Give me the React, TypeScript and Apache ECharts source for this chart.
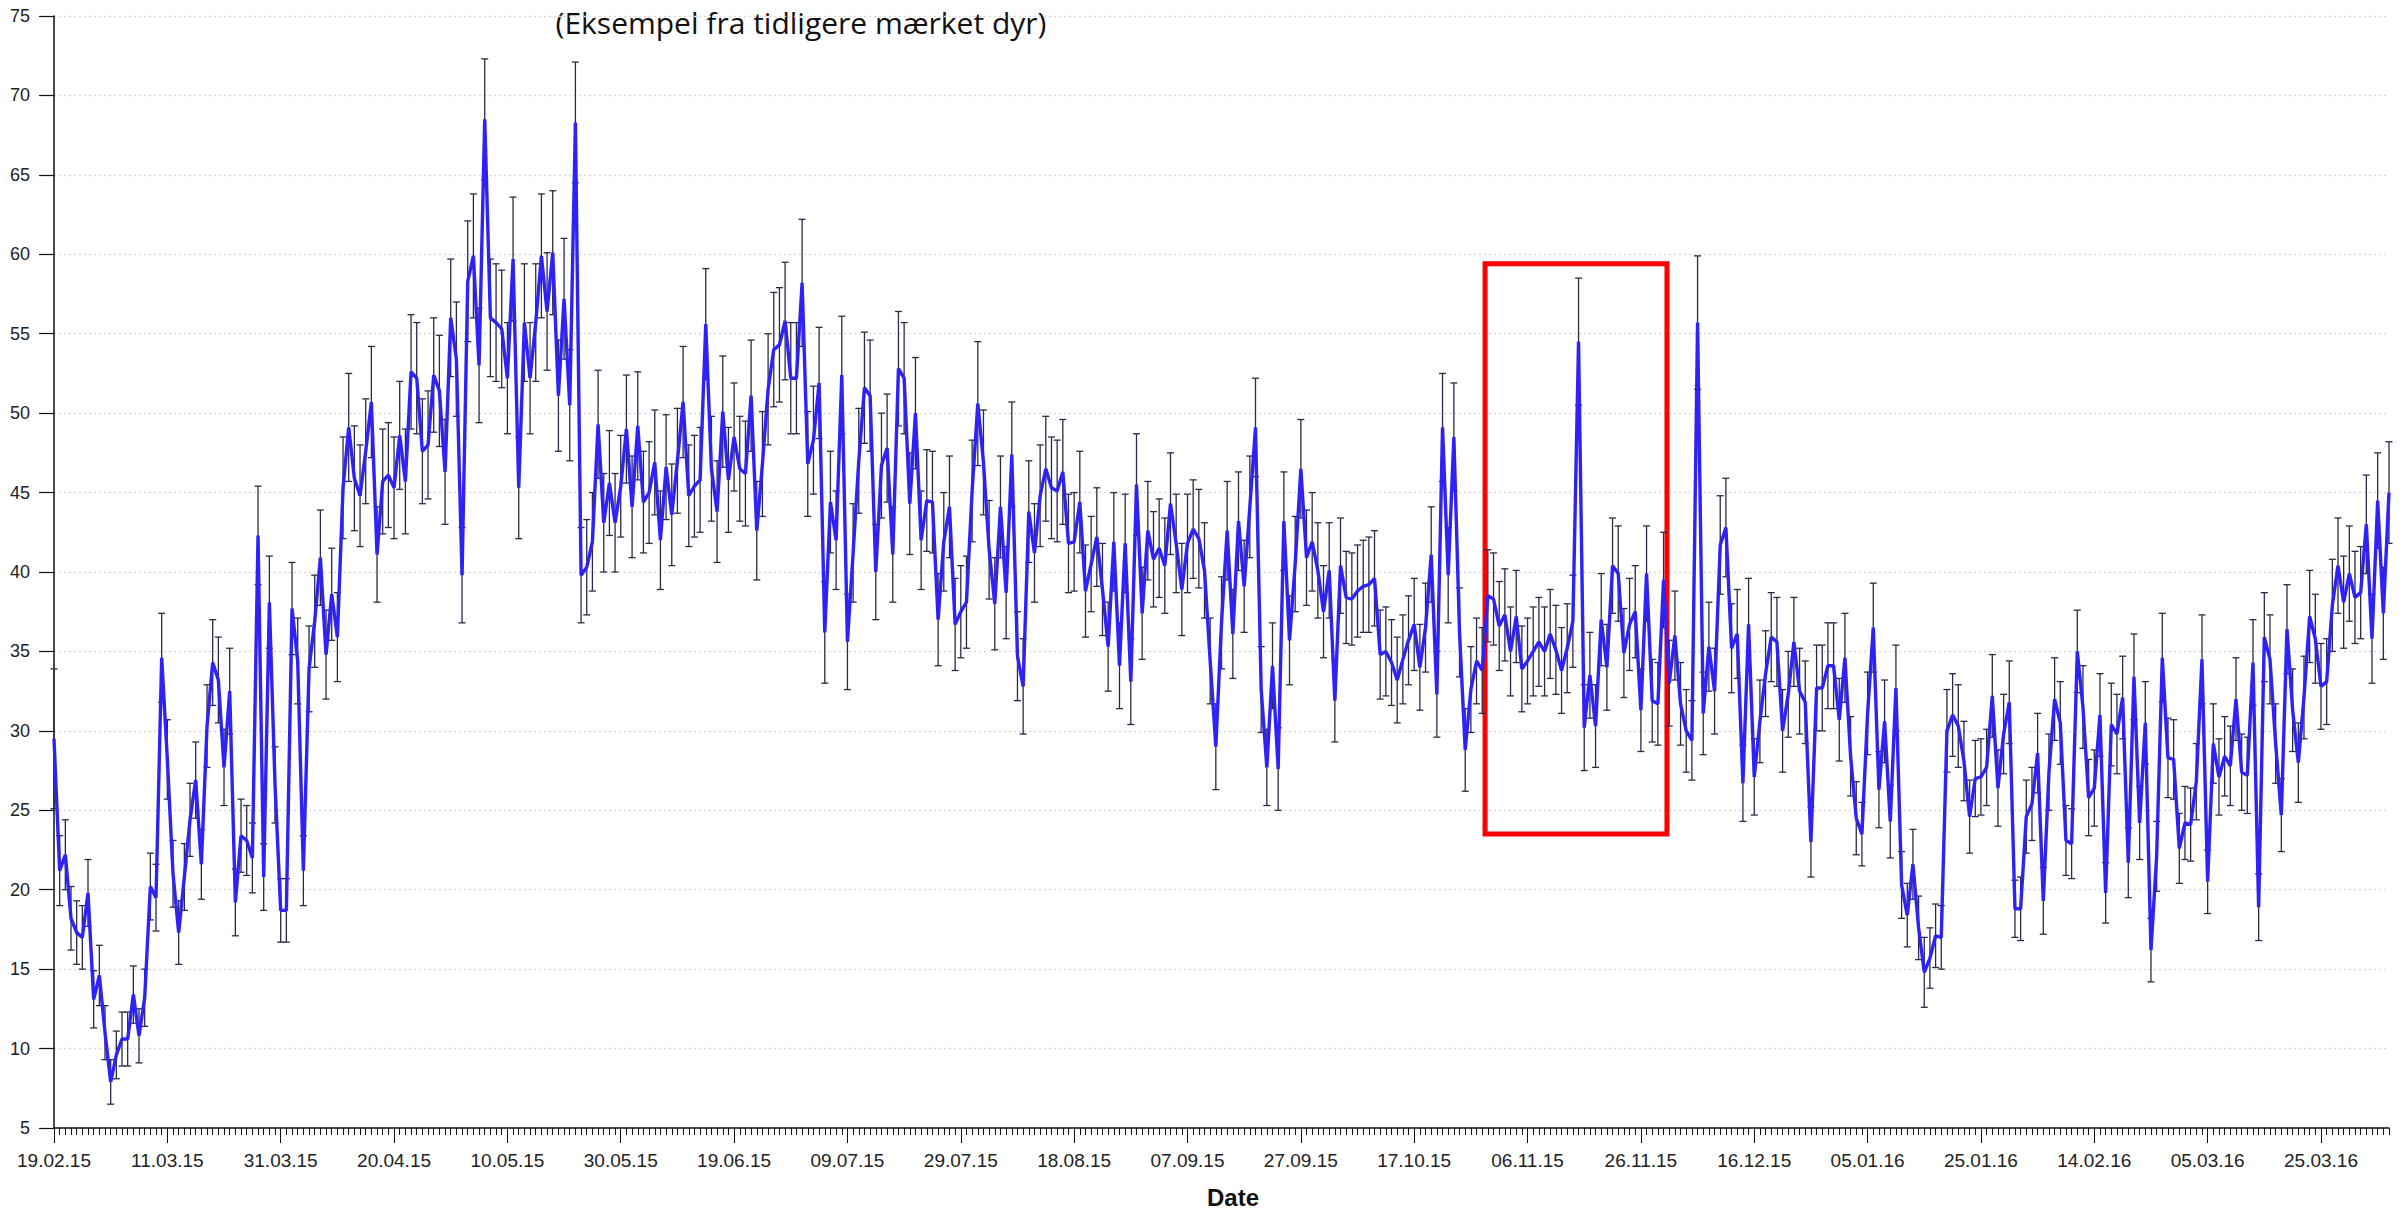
import React, { useEffect, useRef } from 'react';
import * as echarts from 'echarts';

// ---- Tick labels (one every 20 days, starting 19.02.2015 = day 0) ----
const xTickLabels = [
  '19.02.15', '11.03.15', '31.03.15', '20.04.15', '10.05.15', '30.05.15', '19.06.15',
  '09.07.15', '29.07.15', '18.08.15', '07.09.15', '27.09.15', '17.10.15', '06.11.15',
  '26.11.15', '16.12.15', '05.01.16', '25.01.16', '14.02.16', '05.03.16', '25.03.16',
];
const TICK_STEP_DAYS = 20;

const TITLE_TEXT = '(Eksempel fra tidligere mærket dyr)';
const X_NAME = 'Date';

// ---- Daily mean values (day 0 = 19.02.15) ----
const meanA = [
  29.5, 21.2, 22.2, 18.2, 17.3, 17.0, 19.8, 13.1, 14.6, 11.0,
  7.9, 9.6, 10.6, 10.6, 13.4, 10.8, 13.2, 20.2, 19.5, 34.6,
  28.2, 21.0, 17.3, 20.8, 24.4, 26.9, 21.6, 30.3, 34.3, 33.2,
  27.7, 32.5, 19.2, 23.4, 23.1, 22.0, 42.3, 20.8, 38.1, 26.6,
  18.7, 18.7, 37.7, 34.4, 21.2, 33.9, 36.9, 40.9, 34.8, 38.6,
];
const meanB = [
  35.9, 45.3, 49.1, 45.9, 44.8, 47.6, 50.7, 41.1, 45.7, 46.1,
  45.3, 48.6, 45.7, 52.6, 52.2, 47.6, 48.0, 52.4, 51.4, 46.3,
  56.0, 53.4, 39.8, 58.3, 59.9, 53.0, 68.5, 56.0, 55.7, 55.3,
  52.2, 59.7, 45.3, 55.7, 52.2, 55.7, 59.9, 56.4, 60.1, 51.1,
  57.2, 50.5, 68.3, 39.8, 40.3, 41.9, 49.3, 43.1, 45.6, 43.1,
];
const meanC = [
  45.4, 49.0, 44.1, 49.2, 44.4, 45.0, 46.9, 42.0, 46.6, 43.6,
  47.0, 50.7, 44.8, 45.4, 45.8, 55.6, 46.5, 43.8, 50.1, 45.8,
  48.5, 46.5, 46.2, 51.1, 42.6, 46.8, 51.5, 54.0, 54.3, 55.8,
  52.2, 52.2, 58.2, 46.8, 48.3, 51.9, 36.2, 44.4, 42.0, 52.4,
  35.6, 41.2, 47.0, 51.6, 51.1, 40.0, 46.7, 47.8, 41.1, 52.8,
];
const meanD = [
  52.2, 44.3, 50.0, 42.0, 44.5, 44.4, 37.0, 41.9, 44.1, 36.7,
  37.5, 38.1, 45.1, 50.6, 46.9, 41.4, 38.0, 44.1, 38.7, 47.4,
  34.7, 32.8, 43.8, 41.2, 44.8, 46.5, 45.3, 45.1, 46.3, 41.8,
  41.9, 44.4, 38.8, 40.5, 42.2, 38.9, 35.3, 41.9, 34.1, 41.8,
  33.1, 45.5, 37.4, 42.6, 40.8, 41.5, 40.4, 44.3, 41.8, 38.9,
];
const meanE = [
  41.8, 42.7, 42.1, 40.1, 34.4, 29.0, 36.8, 42.6, 36.1, 43.2,
  39.1, 44.1, 49.1, 32.6, 27.7, 34.1, 27.6, 43.2, 35.7, 40.5,
  46.5, 40.9, 41.9, 40.1, 37.5, 40.1, 31.9, 40.4, 38.4, 38.3,
  38.8, 39.1, 39.2, 39.6, 34.8, 35.0, 34.3, 33.2, 34.5, 35.7,
  36.7, 34.0, 36.5, 41.1, 32.3, 49.1, 39.8, 48.5, 36.2, 28.8,
];
const meanF = [
  32.6, 34.4, 33.8, 38.5, 38.3, 36.6, 37.3, 35.0, 37.2, 33.9,
  34.4, 35.0, 35.6, 35.0, 36.1, 35.1, 33.8, 35.2, 36.9, 54.5,
  30.2, 33.5, 30.3, 37.0, 34.0, 40.4, 39.9, 34.9, 36.7, 37.5,
  31.3, 39.9, 31.9, 31.7, 39.5, 33.0, 36.0, 31.7, 30.0, 29.4,
  55.7, 31.1, 35.3, 32.5, 41.7, 42.8, 35.2, 36.1, 26.7, 36.7,
];
const meanG = [
  27.1, 30.6, 33.6, 35.9, 35.6, 30.0, 32.3, 35.6, 32.5, 31.8,
  23.0, 32.7, 32.7, 34.1, 34.1, 30.7, 34.6, 28.4, 24.5, 23.5,
  31.1, 36.5, 26.3, 30.6, 24.3, 32.7, 20.3, 18.4, 21.6, 17.6,
  14.8, 15.7, 17.1, 17.0, 30.0, 31.0, 30.3, 28.1, 24.6, 27.0,
  27.1, 27.7, 32.2, 26.4, 29.8, 31.8, 18.8, 18.8, 24.6, 25.4,
];
const meanH = [
  28.6, 19.3, 27.4, 32.0, 30.5, 23.1, 22.9, 35.0, 31.5, 25.8,
  26.4, 31.0, 19.8, 30.4, 29.8, 32.1, 21.7, 33.4, 24.2, 30.5,
  16.2, 22.1, 34.6, 28.3, 28.2, 22.6, 24.2, 24.1, 26.8, 34.5,
  20.5, 29.2, 27.1, 28.4, 27.8, 32.0, 27.4, 27.2, 34.3, 18.9,
  35.9, 34.5, 29.2, 24.7, 36.4, 31.3, 28.0, 32.1, 37.2, 35.8,
  32.8, 33.1, 37.9, 40.4, 38.1, 39.9, 38.4, 38.7, 43.0, 35.8,
  44.5, 37.4, 45.0,
];

// ---- Error-bar half widths, same order ----
const errA = [
  4.4, 2.2, 2.2, 2.0, 2.0, 2.0, 2.1, 1.8, 1.9, 1.7,
  1.4, 1.5, 1.7, 1.7, 1.8, 1.7, 1.8, 2.1, 2.1, 2.8,
  2.5, 2.1, 2.0, 2.1, 2.3, 2.4, 2.2, 2.6, 2.7, 2.7,
  2.4, 2.7, 2.1, 2.3, 2.2, 2.2, 3.1, 2.1, 2.9, 2.4,
  2.0, 2.0, 2.9, 2.7, 2.2, 2.7, 2.9, 3.0, 2.8, 2.9,
];
const errB = [
  2.8, 3.2, 3.4, 3.3, 3.2, 3.3, 3.5, 3.0, 3.3, 3.3,
  3.2, 3.4, 3.3, 3.6, 3.5, 3.3, 3.4, 3.6, 3.5, 3.3,
  3.7, 3.6, 3.0, 3.8, 3.9, 3.6, 3.8, 3.7, 3.7, 3.7,
  3.5, 3.9, 3.2, 3.7, 3.5, 3.7, 3.9, 3.7, 3.9, 3.5,
  3.8, 3.5, 3.8, 3.0, 3.0, 3.1, 3.4, 3.1, 3.3, 3.1,
];
const errC = [
  3.2, 3.4, 3.2, 3.4, 3.2, 3.2, 3.3, 3.1, 3.3, 3.2,
  3.3, 3.5, 3.2, 3.2, 3.3, 3.5, 3.3, 3.2, 3.5, 3.3,
  3.4, 3.3, 3.3, 3.5, 3.1, 3.3, 3.5, 3.6, 3.6, 3.7,
  3.5, 3.5, 4.0, 3.3, 3.4, 3.5, 3.2, 3.2, 3.1, 3.7,
  3.0, 3.1, 3.3, 3.5, 3.5, 3.0, 3.3, 3.4, 3.0, 3.6,
];
const errD = [
  3.5, 3.2, 3.5, 3.1, 3.2, 3.2, 2.9, 3.1, 3.2, 2.9,
  2.9, 2.9, 3.2, 3.9, 3.3, 3.1, 2.9, 3.2, 2.9, 3.3,
  2.8, 3.0, 3.2, 3.1, 3.2, 3.3, 3.2, 3.2, 3.3, 3.1,
  3.1, 3.2, 2.9, 3.0, 3.1, 2.9, 2.8, 3.1, 2.7, 3.1,
  2.7, 3.2, 2.9, 3.1, 3.0, 3.1, 3.0, 3.2, 3.1, 2.9,
];
const errE = [
  3.1, 3.1, 3.1, 3.0, 2.7, 2.7, 2.9, 3.1, 2.8, 3.1,
  2.9, 3.2, 3.1, 2.7, 2.4, 2.7, 2.6, 3.1, 2.8, 3.0,
  3.1, 3.0, 3.1, 3.0, 2.9, 3.0, 2.6, 3.0, 2.9, 2.9,
  2.9, 2.9, 3.0, 3.0, 2.8, 2.8, 2.7, 2.7, 2.8, 2.8,
  2.9, 2.7, 2.8, 3.0, 2.7, 3.4, 3.0, 3.4, 2.8, 2.6,
];
const errF = [
  2.7, 2.7, 2.7, 2.9, 2.9, 2.8, 2.9, 2.8, 2.9, 2.7,
  2.7, 2.8, 2.8, 2.8, 2.8, 2.8, 2.7, 2.8, 2.9, 4.0,
  2.7, 2.7, 2.6, 2.9, 2.7, 3.0, 3.0, 2.8, 2.9, 2.9,
  2.6, 3.0, 2.6, 2.6, 3.0, 2.7, 2.8, 2.6, 2.6, 2.5,
  4.2, 2.6, 2.8, 2.7, 3.1, 3.1, 2.8, 2.8, 2.4, 2.9,
];
const errG = [
  2.4, 2.6, 2.7, 2.8, 2.8, 2.6, 2.7, 2.8, 2.7, 2.6,
  2.2, 2.7, 2.7, 2.7, 2.7, 2.6, 2.8, 2.5, 2.3, 2.0,
  2.6, 2.8, 2.4, 2.6, 2.3, 2.7, 2.1, 2.0, 2.2, 2.0,
  2.2, 1.9, 2.0, 2.0, 2.6, 2.6, 2.6, 2.5, 2.3, 2.4,
  2.4, 2.4, 2.6, 2.4, 2.5, 2.6, 1.8, 2.0, 2.3, 2.3,
];
const errH = [
  2.5, 2.1, 2.4, 2.6, 2.6, 2.2, 2.2, 2.6, 2.6, 2.4,
  2.4, 2.6, 1.9, 2.6, 2.5, 2.6, 2.2, 2.7, 2.3, 2.6,
  2.0, 2.2, 2.8, 2.5, 2.5, 2.2, 2.3, 2.3, 2.4, 2.8,
  2.0, 2.5, 2.4, 2.5, 2.5, 2.6, 2.4, 2.4, 2.7, 2.1,
  2.8, 2.8, 2.5, 2.3, 2.8, 2.6, 2.5, 2.6, 2.9, 2.8,
  2.7, 2.7, 2.9, 3.0, 2.9, 3.0, 2.9, 2.9, 3.1, 2.8,
  3.0, 2.9, 3.2,
];

// ---- Highlight box (data coordinates: days / value) ----
const BOX_DAY_START = 252.5;
const BOX_DAY_END = 284.6;
const BOX_VALUE_LOW = 23.5;
const BOX_VALUE_HIGH = 59.4;

// ---- Styling ----
const LINE_COLOR = '#2f22f6';
const ERR_COLOR = '#2b2a46';
const AXIS_COLOR = '#111111';
const LABEL_FONT = 'Liberation Sans, Arial, sans-serif';

const means = [...meanA, ...meanB, ...meanC, ...meanD, ...meanE, ...meanF, ...meanG, ...meanH];
const errs = [...errA, ...errB, ...errC, ...errD, ...errE, ...errF, ...errG, ...errH];

export default function App() {
  const ref = useRef<HTMLDivElement>(null);

  useEffect(() => {
    if (!ref.current) return;
    const chart = echarts.init(ref.current, undefined, { renderer: 'svg' });
    const lastDay = means.length - 1;
    const lineData = means.map((v, i) => [i, v]);
    const errData = means.map((v, i) => [i, +(v - errs[i]).toFixed(2), +(v + errs[i]).toFixed(2)]);

    const option: any = {
      animation: false,
      backgroundColor: '#ffffff',
      grid: { left: 54, right: 18, top: 16, bottom: 68, containLabel: false },
      graphic: [
        {
          type: 'text',
          x: 801,
          y: 22,
          style: {
            text: TITLE_TEXT,
            fill: '#111111',
            font: '30px "Open Sans", sans-serif',
            fontSize: 30,
            fontFamily: 'Open Sans',
            textAlign: 'center',
            align: 'center',
            textVerticalAlign: 'middle',
            verticalAlign: 'middle',
          },
        },
      ],
      xAxis: [
        {
          type: 'value',
          min: 0,
          max: lastDay,
          interval: TICK_STEP_DAYS,
          position: 'bottom',
          axisLine: { show: true, lineStyle: { color: AXIS_COLOR, width: 1.5 } },
          axisTick: { show: true, length: 15, lineStyle: { color: AXIS_COLOR, width: 1 } },
          axisLabel: {
            show: true,
            showMaxLabel: false,
            margin: 23,
            fontSize: 19,
            fontFamily: LABEL_FONT,
            color: '#222222',
            formatter: (v: number) =>
              v % TICK_STEP_DAYS === 0 && xTickLabels[v / TICK_STEP_DAYS] ? xTickLabels[v / TICK_STEP_DAYS] : '',
          },
          splitLine: { show: false },
          name: X_NAME,
          nameLocation: 'middle',
          nameGap: 57,
          nameTextStyle: {
            fontSize: 24,
            fontWeight: 'bold',
            fontFamily: LABEL_FONT,
            color: '#111111',
            padding: [0, 0, 0, 23],
          },
        },
        {
          type: 'value',
          min: 0,
          max: lastDay,
          interval: 1,
          position: 'bottom',
          axisLine: { show: false },
          axisTick: { show: true, length: 7, lineStyle: { color: AXIS_COLOR, width: 1 } },
          axisLabel: { show: false },
          splitLine: { show: false },
        },
      ],
      yAxis: {
        type: 'value',
        min: 5,
        max: 75,
        interval: 5,
        axisLine: { show: true, lineStyle: { color: AXIS_COLOR, width: 1.5 } },
        axisTick: { show: true, length: 15, lineStyle: { color: AXIS_COLOR, width: 1.2 } },
        axisLabel: { margin: 24, fontSize: 18, fontFamily: LABEL_FONT, color: '#222222' },
        splitLine: { show: true, lineStyle: { color: '#d9d9d9', type: [2, 3], width: 1.3 } },
      },
      series: [
        {
          type: 'custom',
          name: 'error',
          xAxisIndex: 0,
          yAxisIndex: 0,
          z: 2,
          silent: true,
          encode: { x: 0, y: [1, 2] },
          data: errData,
          renderItem: (params: any, api: any) => {
            const x = api.value(0);
            const lo = api.coord([x, api.value(1)]);
            const hi = api.coord([x, api.value(2)]);
            const cap = 3.5;
            const style = { stroke: ERR_COLOR, lineWidth: 1.3 };
            return {
              type: 'group',
              children: [
                { type: 'line', shape: { x1: lo[0], y1: lo[1], x2: hi[0], y2: hi[1] }, style },
                { type: 'line', shape: { x1: lo[0] - cap, y1: lo[1], x2: lo[0] + cap, y2: lo[1] }, style },
                { type: 'line', shape: { x1: hi[0] - cap, y1: hi[1], x2: hi[0] + cap, y2: hi[1] }, style },
              ],
            };
          },
        },
        {
          type: 'line',
          name: 'mean',
          xAxisIndex: 0,
          yAxisIndex: 0,
          z: 3,
          data: lineData,
          showSymbol: false,
          symbol: 'none',
          lineStyle: { color: LINE_COLOR, width: 3.4 },
          itemStyle: { color: LINE_COLOR },
          markArea: {
            silent: true,
            itemStyle: { color: 'rgba(0,0,0,0)', borderColor: '#ff0000', borderWidth: 5 },
            data: [
              [
                { coord: [BOX_DAY_START, BOX_VALUE_HIGH] },
                { coord: [BOX_DAY_END, BOX_VALUE_LOW] },
              ],
            ],
          },
        },
      ],
    };

    chart.setOption(option);
    return () => chart.dispose();
  }, []);

  return (
    <div
      ref={ref}
      style={{ position: 'fixed', left: 0, top: 0, width: '2407px', height: '1214px', background: '#fff' }}
    />
  );
}
